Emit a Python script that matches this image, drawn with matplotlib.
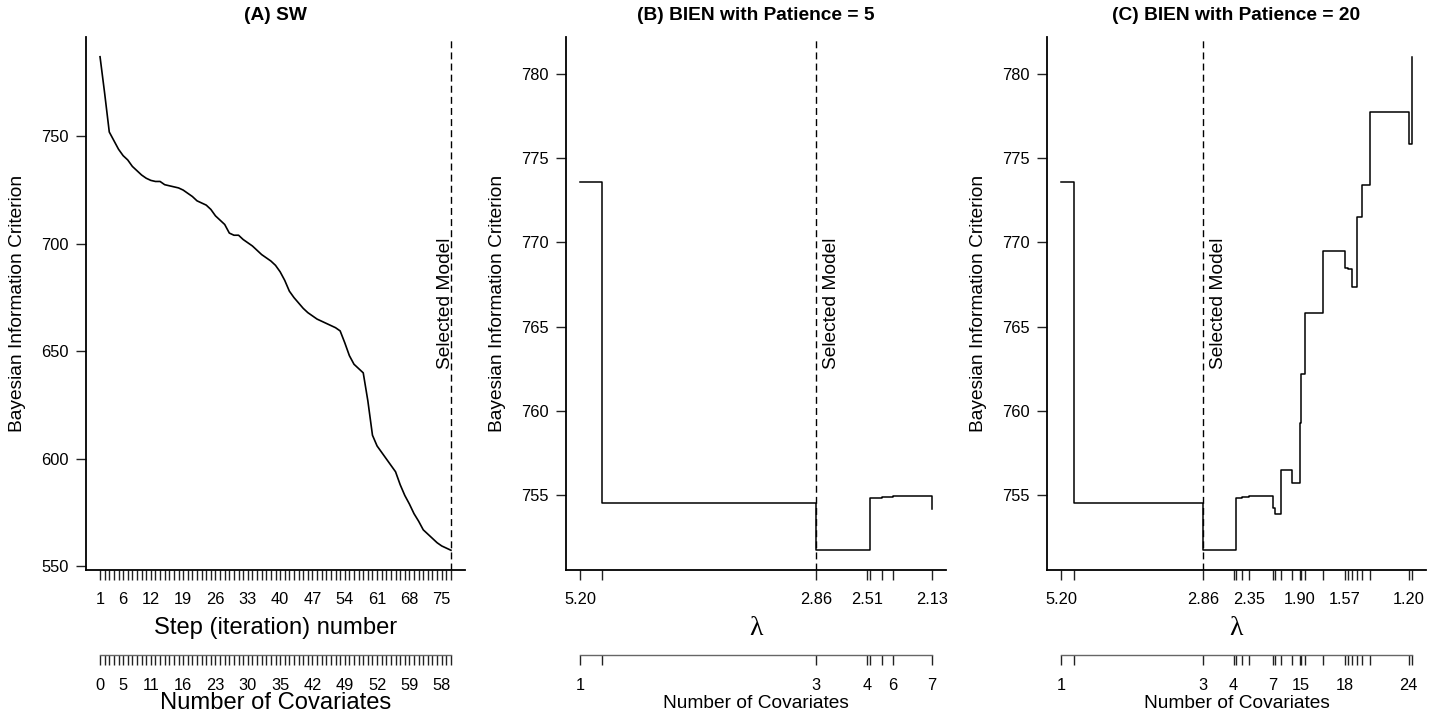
import numpy as np
import matplotlib
matplotlib.use('Agg')
import matplotlib.pyplot as plt
from matplotlib.ticker import NullLocator

plt.rcParams['font.family'] = ['Liberation Sans', 'DejaVu Sans']

W, H, DPI = 1439, 717, 100

# ---------------- Panel A: stepwise (SW) ----------------
sw_steps = list(range(1, 78))
sw_bic = [787, 770, 752, 748, 744, 741, 739, 736, 734, 732,
          730.5, 729.5, 729, 729, 727.5, 727, 726.5, 726, 725, 723.5,
          722, 720, 719, 718, 716, 713, 711, 709, 705, 704,
          704, 702, 700.5, 699, 697, 695, 693.5, 692, 690, 687,
          683, 678, 675, 672.5, 670, 668, 666.5, 665, 664, 663,
          662, 661, 659.5, 654, 648, 644, 642, 640, 627, 611,
          606, 603, 600, 597, 594, 588, 583, 579, 574.5, 571,
          567, 565, 563, 561, 559.5, 558.5, 557.5]
sw_label_steps = [1, 6, 12, 19, 26, 33, 40, 47, 54, 61, 68, 75]
sw_cov_labels = ['0', '5', '11', '16', '23', '30', '35', '42', '49', '52', '59', '58']
sw_selected = 77
sw_yticks = [550, 600, 650, 700, 750]

# ---------------- Panel B: BIEN patience 5 ----------------
b_lambda = [5.20, 4.92, 2.86, 2.51, 2.49, 2.42, 2.35, 2.13]
b_bic = [773.6, 754.54, 751.73, 751.75, 754.84, 754.86, 754.94, 754.2]
b_lambda_labels = ['5.20', '', '2.86', '2.51', '', '', '', '2.13']
b_cov_labels = ['1', '', '3', '4', '', '', '6', '7']
b_selected = 2.86

# ---------------- Panel C: BIEN patience 20 ----------------
c_lambda = [5.20, 4.92, 2.86, 2.51, 2.49, 2.42, 2.35, 2.13, 2.11, 2.06,
            1.96, 1.90, 1.89, 1.855, 1.72, 1.57, 1.547, 1.523, 1.493, 1.461,
            1.41, 1.20, 1.183]
c_bic = [773.6, 754.54, 751.73, 751.75, 754.84, 754.86, 754.94, 754.25, 753.9, 756.48,
         755.7, 759.3, 762.2, 765.8, 769.45, 768.46, 768.4, 767.37, 771.5, 773.37,
         777.7, 775.8, 781.0]
c_lambda_labels = ['5.20', '', '2.86', '', '', '', '2.35', '', '', '',
                   '', '1.90', '', '', '', '1.57', '', '', '', '',
                   '', '1.20', '']
c_cov_labels = ['1', '', '3', '4', '', '', '', '7', '', '',
                '', '', '15', '', '', '18', '', '', '', '',
                '', '24', '']
c_selected = 2.86
bien_yticks = [755, 760, 765, 770, 775, 780]

titles = ['(A) SW', '(B) BIEN with Patience = 5', '(C) BIEN with Patience = 20']

TICK = 11.8
LAB = 13.8
BIG = 17.1
TL = 7.2   # tick length pt


def rlim(vals):
    lo, hi = min(vals), max(vals)
    p = 0.04 * (hi - lo)
    return lo - p, hi + p


def rloglim(vals):
    lo, hi = np.log(min(vals)), np.log(max(vals))
    p = 0.04 * (hi - lo)
    return np.exp(hi + p), np.exp(lo - p)


def add_ax(l, r, t, b):
    return fig.add_axes([l / W, 1 - b / H, (r - l) / W, (b - t) / H])


def style_main(ax):
    for s in ['top', 'right']:
        ax.spines[s].set_visible(False)
    for s in ['left', 'bottom']:
        ax.spines[s].set_linewidth(1.3)
        ax.spines[s].set_color('black')
    ax.tick_params(axis='both', direction='out', length=TL, width=1.0,
                   labelsize=TICK, color='#222222')
    ax.tick_params(axis='x', pad=9)
    ax.tick_params(axis='y', pad=5.5)


def cov_axis(l, r, xlim, ticks, labels, bounds, log=False):
    cax = fig.add_axes([l / W, 1 - 655 / H, (r - l) / W, 0.0005])
    if log:
        cax.set_xscale('log')
    cax.set_xlim(*xlim)
    cax.patch.set_visible(False)
    for s in ['top', 'right', 'left']:
        cax.spines[s].set_visible(False)
    cax.spines['bottom'].set_bounds(*bounds)
    cax.spines['bottom'].set_color('#666666')
    cax.spines['bottom'].set_linewidth(1.0)
    cax.set_yticks([])
    cax.set_xticks(ticks)
    cax.set_xticklabels(labels)
    cax.xaxis.set_minor_locator(NullLocator())
    cax.tick_params(axis='x', direction='out', length=TL, width=1.0,
                    labelsize=TICK, pad=9, color='#222222')
    return cax


fig = plt.figure(figsize=(W / DPI, H / DPI), dpi=DPI)

panels = [(86, 465), (566, 946), (1047, 1426)]
TOP, BOT = 37, 570

# ---- Panel A ----
l, r = panels[0]
ax = add_ax(l, r, TOP, BOT)
ax.plot(sw_steps, sw_bic, color='black', lw=1.2)
xlimA = rlim(sw_steps)
ax.set_xlim(*xlimA)
ax.set_ylim(*rlim(sw_bic))
ax.set_yticks(sw_yticks)
ax.set_xticks(sw_steps)
ax.set_xticklabels([str(s) if s in sw_label_steps else '' for s in sw_steps])
style_main(ax)
ax.axvline(sw_selected, color='black', lw=1.0, dashes=(5, 3))
ax.annotate('Selected Model', xy=(sw_selected, 0.5), xycoords=('data', 'axes fraction'),
            xytext=(-0.7, 0), textcoords='offset points', rotation=90,
            rotation_mode='anchor', ha='center', va='baseline', fontsize=LAB)
cov_map = dict(zip(sw_label_steps, sw_cov_labels))
cov_axis(l, r, xlimA, sw_steps, [cov_map.get(s, '') for s in sw_steps],
         (sw_steps[0], sw_steps[-1]))
fig.text((l + r) / 2 / W, 1 - 634 / H, 'Step (iteration) number', ha='center',
         va='baseline', fontsize=BIG)
fig.text((l + r) / 2 / W, 1 - 709 / H, 'Number of Covariates', ha='center',
         va='baseline', fontsize=BIG)

# ---- Panels B and C ----
ylimBC = rlim(b_bic + c_bic)
for idx, (lam, bic, lam_lab, cov_lab, sel) in enumerate(
        [(b_lambda, b_bic, b_lambda_labels, b_cov_labels, b_selected),
         (c_lambda, c_bic, c_lambda_labels, c_cov_labels, c_selected)], start=1):
    l, r = panels[idx]
    ax = add_ax(l, r, TOP, BOT)
    ax.set_xscale('log')
    ax.plot(lam, bic, color='black', lw=1.1, drawstyle='steps-post')
    xl = rloglim(lam)
    ax.set_xlim(*xl)
    ax.set_ylim(*ylimBC)
    ax.set_yticks(bien_yticks)
    ax.set_xticks(lam)
    ax.set_xticklabels(lam_lab)
    ax.xaxis.set_minor_locator(NullLocator())
    style_main(ax)
    ax.axvline(sel, color='black', lw=1.0, dashes=(5, 3))
    ax.annotate('Selected Model', xy=(sel, 0.5), xycoords=('data', 'axes fraction'),
                xytext=(14.5, 0), textcoords='offset points', rotation=90,
                rotation_mode='anchor', ha='center', va='baseline', fontsize=LAB)
    cov_axis(l, r, xl, lam, cov_lab, (lam[0], lam[-1]), log=True)
    fig.text((l + r) / 2 / W, 1 - 635 / H, '\u03bb', ha='center', va='baseline',
             fontsize=20, family=['Liberation Serif', 'DejaVu Serif'])
    fig.text((l + r) / 2 / W, 1 - 708 / H, 'Number of Covariates', ha='center',
             va='baseline', fontsize=LAB)

# ---- titles and y labels ----
for (l, r), t in zip(panels, titles):
    fig.text((l + r) / 2 / W, 1 - 16 / H, t, ha='center', va='center',
             fontsize=LAB, weight='bold')
    fig.text((l - 64) / W, 1 - 303.5 / H, 'Bayesian Information Criterion',
             rotation=90, rotation_mode='anchor', ha='center', va='baseline',
             fontsize=LAB)

fig.savefig('out.png', dpi=DPI)
